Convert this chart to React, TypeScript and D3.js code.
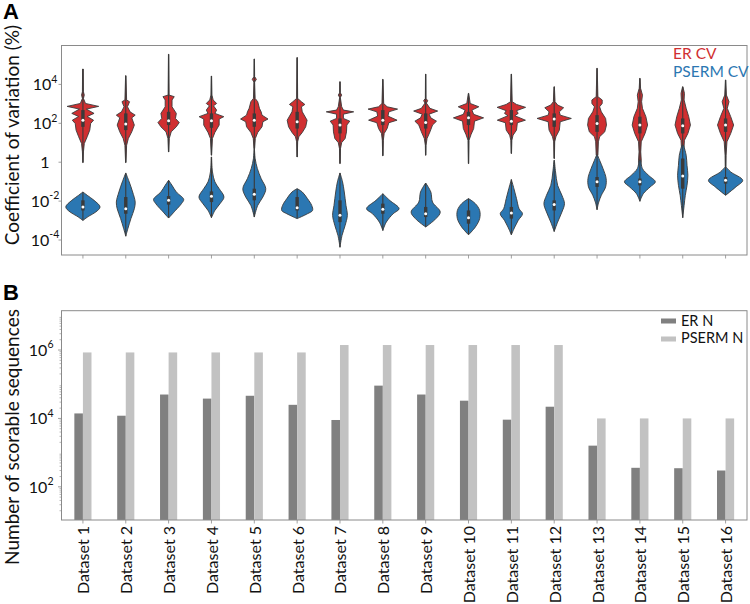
import React from "react";
import * as d3 from "d3";

// ---------- DATA ----------
const categories = [
  "Dataset 1", "Dataset 2", "Dataset 3", "Dataset 4", "Dataset 5", "Dataset 6",
  "Dataset 7", "Dataset 8", "Dataset 9", "Dataset 10", "Dataset 11", "Dataset 12",
  "Dataset 13", "Dataset 14", "Dataset 15", "Dataset 16",
];

// Panel B: number of scorable sequences
const erN = [14000, 12000, 50000, 38000, 46000, 25000, 9000, 91000, 50000, 33000, 9200, 22000, 1600, 360, 350, 300];
const psermN = [850000, 850000, 850000, 850000, 850000, 850000, 1400000, 1400000, 1400000, 1400000, 1400000, 1400000, 10000, 10000, 10000, 10000];

// Panel A: violin density profiles, knots of [log10(CV %), relative density]
const erCvProfiles: [number, number][][] = [
  [[4.79,0.02],[3.62,0.03],[3.45,0.08],[3.28,0.03],[3.02,0.15],[2.87,0.92],[2.73,0.2],[2.51,0.65],[2.35,0.25],[2.16,0.62],[1.99,0.45],[1.65,0.4],[1.31,0.25],[0.96,0.08],[0.53,0.03],[-0.02,0.01]],
  [[4.45,0.01],[3.2,0.05],[3.11,0.22],[2.85,0.1],[2.59,0.25],[2.42,0.55],[2.28,0.35],[1.91,0.5],[1.56,0.35],[1.22,0.15],[0.87,0.05],[-0.02,0.01]],
  [[5.55,0.01],[3.45,0.03],[3.37,0.33],[3.2,0.2],[2.85,0.2],[2.51,0.45],[2.25,0.4],[2.04,0.62],[1.82,0.45],[1.56,0.15],[1.22,0.04],[0.53,0.01]],
  [[4.43,0.01],[3.45,0.03],[3.2,0.1],[3.02,0.3],[2.9,0.12],[2.68,0.3],[2.51,0.2],[2.34,0.72],[2.22,0.45],[1.91,0.45],[1.53,0.2],[1.22,0.06],[0.36,0.01]],
  [[5.31,0.01],[4.4,0.02],[4.26,0.12],[4.12,0.02],[3.28,0.05],[3.11,0.2],[2.94,0.25],[2.77,0.3],[2.59,0.4],[2.42,0.45],[2.22,0.8],[2.08,0.5],[1.82,0.45],[1.53,0.2],[1.22,0.06],[0.7,0.02]],
  [[5.38,0.01],[3.28,0.03],[3.11,0.25],[2.97,0.45],[2.85,0.25],[2.59,0.3],[2.16,0.58],[1.82,0.5],[1.53,0.3],[1.31,0.1],[1.05,0.03],[0.27,0.01]],
  [[4.14,0.01],[3.57,0.02],[3.45,0.1],[3.33,0.02],[2.85,0.1],[2.68,0.2],[2.59,0.8],[2.47,0.2],[2.25,0.2],[2.11,0.57],[1.91,0.4],[1.56,0.38],[1.22,0.3],[1.01,0.1],[0.7,0.03],[-0.07,0.01]],
  [[4.26,0.01],[3.02,0.05],[2.85,0.25],[2.73,0.86],[2.59,0.35],[2.37,0.3],[2.16,0.83],[2.03,0.35],[1.73,0.25],[1.48,0.08],[1.13,0.03],[0.33,0.01]],
  [[4.53,0.01],[3.28,0.02],[3.16,0.12],[3.04,0.04],[2.77,0.25],[2.63,0.7],[2.47,0.2],[2.28,0.3],[2.11,0.63],[1.91,0.4],[1.56,0.25],[1.22,0.08],[0.87,0.02],[0.36,0.01]],
  [[3.54,0.01],[3.02,0.1],[2.85,0.6],[2.68,0.2],[2.46,0.3],[2.28,0.88],[2.11,0.35],[1.73,0.3],[1.43,0.15],[1.13,0.03],[-0.07,0.01]],
  [[4.53,0.01],[3.11,0.05],[2.97,0.3],[2.82,0.83],[2.65,0.3],[2.51,0.4],[2.39,0.2],[2.16,0.82],[2.03,0.35],[1.65,0.3],[1.39,0.1],[1.13,0.03],[0.45,0.01]],
  [[3.88,0.01],[3.11,0.05],[2.94,0.2],[2.8,0.55],[2.59,0.3],[2.42,0.35],[2.25,1.0],[2.08,0.35],[1.65,0.3],[1.31,0.1],[1.05,0.03],[0.19,0.01]],
  [[4.83,0.01],[3.37,0.05],[3.2,0.3],[3.02,0.3],[2.85,0.15],[2.59,0.25],[2.25,0.5],[1.91,0.55],[1.56,0.45],[1.31,0.15],[1.05,0.08],[0.36,0.05]],
  [[4.31,0.01],[3.8,0.04],[3.45,0.15],[3.11,0.1],[2.77,0.15],[2.34,0.35],[1.91,0.45],[1.48,0.3],[1.05,0.08],[0.53,0.05],[0.1,0.08],[-0.33,0.03]],
  [[3.88,0.01],[3.54,0.1],[3.2,0.08],[2.77,0.2],[2.34,0.35],[1.91,0.45],[1.48,0.3],[1.13,0.1],[0.7,0.07],[0.36,0.05]],
  [[4.23,0.01],[3.45,0.05],[3.11,0.2],[2.77,0.1],[2.34,0.3],[1.91,0.47],[1.48,0.3],[1.05,0.08],[0.36,0.03],[-0.24,0.02]],
];
// [q1, median, q3] in log10(CV %)
const erCvBox: [number, number, number][] = [
  [1.82,2.16,2.68],[1.65,1.96,2.51],[1.91,2.13,2.59],[1.77,2.13,2.51],[1.82,2.16,2.51],[1.73,2.08,2.59],
  [1.48,1.91,2.25],[1.91,2.16,2.68],[1.73,2.04,2.51],[1.91,2.28,2.59],[1.91,2.11,2.68],[1.82,2.22,2.51],
  [1.56,1.99,2.42],[1.48,1.91,2.34],[1.48,1.87,2.25],[1.56,1.91,2.25],
];

const psermCvProfiles: [number, number][][] = [
  [[-1.53,0],[-1.7,0.25],[-1.96,0.65],[-2.3,1.0],[-2.56,0.75],[-2.77,0.35],[-2.99,0]],
  [[-0.55,0],[-1.01,0.2],[-1.53,0.4],[-2.05,0.55],[-2.39,0.5],[-2.9,0.3],[-3.42,0.12],[-3.8,0]],
  [[-0.93,0],[-1.19,0.2],[-1.53,0.45],[-1.91,0.88],[-2.13,0.75],[-2.48,0.4],[-2.87,0]],
  [[0.27,0.01],[-0.5,0.06],[-1.01,0.2],[-1.36,0.45],[-1.79,0.73],[-2.13,0.5],[-2.48,0.2],[-2.85,0]],
  [[0.7,0.01],[0.19,0.05],[-0.33,0.18],[-0.84,0.4],[-1.36,0.67],[-1.79,0.5],[-2.22,0.2],[-2.82,0]],
  [[-1.36,0],[-1.53,0.3],[-1.87,0.6],[-2.22,0.85],[-2.48,0.9],[-2.65,0.6],[-2.9,0]],
  [[-0.55,0],[-1.01,0.15],[-1.53,0.25],[-2.22,0.35],[-2.73,0.43],[-3.25,0.3],[-3.76,0.12],[-4.37,0]],
  [[-1.62,0],[-1.96,0.4],[-2.39,0.95],[-2.65,0.6],[-3.08,0.2],[-3.51,0]],
  [[-1.07,0],[-1.53,0.3],[-2.05,0.4],[-2.56,0.85],[-2.9,0.6],[-3.33,0]],
  [[-1.87,0],[-2.13,0.4],[-2.48,0.65],[-2.9,0.65],[-3.33,0.4],[-3.73,0]],
  [[-0.89,0],[-1.36,0.15],[-1.87,0.3],[-2.39,0.45],[-2.65,0.65],[-2.99,0.4],[-3.33,0.2],[-3.73,0]],
  [[0.1,0.01],[-0.5,0.08],[-1.19,0.2],[-1.7,0.45],[-2.13,0.6],[-2.56,0.45],[-3.08,0.2],[-3.56,0]],
  [[0.36,0.03],[0.1,0.15],[-0.33,0.35],[-0.84,0.53],[-1.27,0.5],[-1.7,0.25],[-2.05,0.1],[-2.44,0]],
  [[0.1,0.05],[-0.33,0.15],[-0.67,0.5],[-1.01,0.9],[-1.27,0.6],[-1.62,0.2],[-2.01,0]],
  [[0.87,0.05],[0.36,0.2],[-0.16,0.25],[-0.67,0.3],[-1.19,0.25],[-1.7,0.15],[-2.22,0.08],[-2.85,0]],
  [[-0.24,0.02],[-0.5,0.3],[-0.93,1.0],[-1.27,0.6],[-1.7,0]],
];
const psermCvBox: [number, number, number][] = [
  [-2.48,-2.3,-1.96],[-2.65,-2.39,-1.79],[-2.18,-1.96,-1.74],[-2.05,-1.75,-1.5],[-1.96,-1.65,-1.36],[-2.48,-2.34,-1.79],
  [-3.08,-2.73,-1.96],[-2.65,-2.42,-2.13],[-2.82,-2.65,-2.3],[-3.16,-2.85,-2.48],[-2.9,-2.61,-2.3],[-2.48,-2.18,-1.96],
  [-1.27,-1.01,-0.76],[-1.19,-1.01,-0.84],[-1.36,-0.71,0.19],[-1.1,-0.93,-0.76],
];

const cvTicks = [1e-4, 1e-2, 1, 1e2, 1e4];
const nTicks = [1e2, 1e4, 1e6];
const cvLegend = ["ER CV", "PSERM CV"];
const nLegend = ["ER N", "PSERM N"];

// ---------- STYLE ----------
const RED = "#d02f31";
const BLUE = "#2b77b2";
const DARK = "#808080";
const LIGHT = "#c2c2c2";
const FRAME = "#8a8a8a";
const FONT = "Lato, 'Open Sans', sans-serif";

const W = 750, H = 604;
const left = 61.5, right = 747;
const aTop = 45.5, aBottom = 255;
const bTop = 310.7, bBottom = 520;

const x = d3.scaleBand<string>().domain(categories).range([left, right]).padding(0);
const bw = x.bandwidth();
const cx = (c: string) => (x(c) as number) + bw / 2;

const yA = d3.scaleLog().domain([Math.pow(10, -4.77), 1e6]).range([aBottom, aTop]);
const yB = d3.scaleLog().domain([Math.pow(10, 1.03), Math.pow(10, 7.15)]).range([bBottom, bTop]);

const maxHalf = bw * 0.4;

function violinPath(center: number, knots: [number, number][], curve: d3.CurveFactory) {
  const area = d3
    .area<[number, number]>()
    .y((d) => yA(Math.pow(10, d[0])))
    .x0((d) => center - d[1] * maxHalf)
    .x1((d) => center + d[1] * maxHalf)
    .curve(curve);
  return area(knots) || "";
}

function TickLabel({ v, y, xPos, anchor }: { v: number; y: number; xPos: number; anchor: string }) {
  const e = Math.round(Math.log10(v));
  return (
    <text x={xPos} y={y + 5.8} fontSize={16} fontFamily={FONT} fill="#111" textAnchor={anchor}>
      {e === 0 ? "1" : (
        <>
          10
          <tspan fontSize={10.5} dy={-7.5}>{e < 0 ? "-" + String(-e) : String(e)}</tspan>
        </>
      )}
    </text>
  );
}

function Violins() {
  const series = [
    { profiles: erCvProfiles, boxes: erCvBox, color: RED, curve: d3.curveLinear },
    { profiles: psermCvProfiles, boxes: psermCvBox, color: BLUE, curve: d3.curveCatmullRom.alpha(0.5) },
  ];
  return (
    <g>
      {categories.map((c, i) => (
        <g key={c}>
          {series.map((s, si) => {
            const knots = s.profiles[i];
            const [q1, med, q3] = s.boxes[i];
            const ls = knots.map((k) => k[0]);
            const lo = d3.min(ls) as number;
            const hi = d3.max(ls) as number;
            const cxx = cx(c);
            return (
              <g key={si}>
                <path d={violinPath(cxx, knots, s.curve)} fill={s.color} stroke="#3a3a3a" strokeWidth={0.9} />
                <line x1={cxx} x2={cxx} y1={yA(Math.pow(10, lo))} y2={yA(Math.pow(10, hi))} stroke="#3a3a3a" strokeWidth={1.1} />
                <line x1={cxx} x2={cxx} y1={yA(Math.pow(10, q1))} y2={yA(Math.pow(10, q3))} stroke="#3a3a3a" strokeWidth={3.4} />
                <circle cx={cxx} cy={yA(Math.pow(10, med))} r={1.5} fill="#fff" />
              </g>
            );
          })}
        </g>
      ))}
    </g>
  );
}

function Bars() {
  const bwBar = bw * 0.2;
  return (
    <g>
      {categories.map((c, i) => {
        const cc = cx(c);
        return (
          <g key={c}>
            <rect x={cc - bwBar} y={yB(erN[i])} width={bwBar} height={bBottom - yB(erN[i])} fill={DARK} />
            <rect x={cc} y={yB(psermN[i])} width={bwBar} height={bBottom - yB(psermN[i])} fill={LIGHT} />
          </g>
        );
      })}
    </g>
  );
}

export default function App() {
  const minorB: number[] = [];
  for (let k = 1; k <= 7; k++) {
    for (let m = 2; m <= 9; m++) {
      const v = m * Math.pow(10, k);
      const [d0, d1] = yB.domain();
      if (v > d0 && v < d1) minorB.push(v);
    }
  }
  return (
    <svg width={W} height={H} style={{ position: "absolute", left: 0, top: 0, background: "#fff" }}>
      <rect x={0} y={0} width={W} height={H} fill="#fff" />
      {/* Panel letters */}
      <text x={3} y={19} fontSize={22} fontWeight="bold" fontFamily="'Liberation Sans', Arial, sans-serif">A</text>
      <text x={3} y={300} fontSize={22} fontWeight="bold" fontFamily="'Liberation Sans', Arial, sans-serif">B</text>

      {/* Panel A */}
      <text transform={`translate(18.5, 135) rotate(-90)`} textAnchor="middle" fontSize={19} fontFamily={FONT} fill="#111">
        Coefficient of variation (%)
      </text>
      {cvTicks.map((t) => (
        <g key={t}>
          <line x1={left - 3} x2={left} y1={yA(t)} y2={yA(t)} stroke={FRAME} strokeWidth={0.8} />
          <TickLabel v={t} y={yA(t)} xPos={45} anchor="middle" />
        </g>
      ))}
      {categories.map((c) => (
        <line key={c} x1={cx(c)} x2={cx(c)} y1={aBottom} y2={aBottom + 3.5} stroke={FRAME} strokeWidth={0.8} />
      ))}
      <Violins />
      <rect x={left} y={aTop} width={right - left} height={aBottom - aTop} fill="none" stroke={FRAME} strokeWidth={1} />
      <text x={673} y={59} fontSize={15.5} fontFamily={FONT} fill={RED}>{cvLegend[0]}</text>
      <text x={673} y={76.5} fontSize={15.5} fontFamily={FONT} fill={BLUE}>{cvLegend[1]}</text>

      {/* Panel B */}
      <text transform={`translate(18.5, 437) rotate(-90)`} textAnchor="middle" fontSize={19} fontFamily={FONT} fill="#111">
        Number of scorable sequences
      </text>
      {minorB.map((t) => (
        <line key={t} x1={left - 2} x2={left} y1={yB(t)} y2={yB(t)} stroke={FRAME} strokeWidth={0.6} />
      ))}
      {nTicks.map((t) => (
        <g key={t}>
          <line x1={left - 3.5} x2={left} y1={yB(t)} y2={yB(t)} stroke={FRAME} strokeWidth={0.8} />
          <TickLabel v={t} y={yB(t)} xPos={53.5} anchor="end" />
        </g>
      ))}
      <Bars />
      {categories.map((c) => (
        <g key={c}>
          <line x1={cx(c)} x2={cx(c)} y1={bBottom} y2={bBottom + 3.5} stroke={FRAME} strokeWidth={0.8} />
          <text
            transform={`translate(${cx(c)}, ${bBottom + 6}) rotate(-90)`}
            textAnchor="end"
            dominantBaseline="central"
            fontSize={16}
            fontFamily={FONT}
            fill="#111"
          >
            {c}
          </text>
        </g>
      ))}
      <rect x={left} y={bTop} width={right - left} height={bBottom - bTop} fill="none" stroke={FRAME} strokeWidth={1} />
      <rect x={661} y={318.5} width={15} height={5} fill={DARK} />
      <rect x={661} y={336.5} width={15} height={5} fill={LIGHT} />
      <text x={681} y={325.5} fontSize={14.5} fontFamily={FONT} fill="#111">{nLegend[0]}</text>
      <text x={681} y={343.3} fontSize={14.5} fontFamily={FONT} fill="#111">{nLegend[1]}</text>
    </svg>
  );
}
